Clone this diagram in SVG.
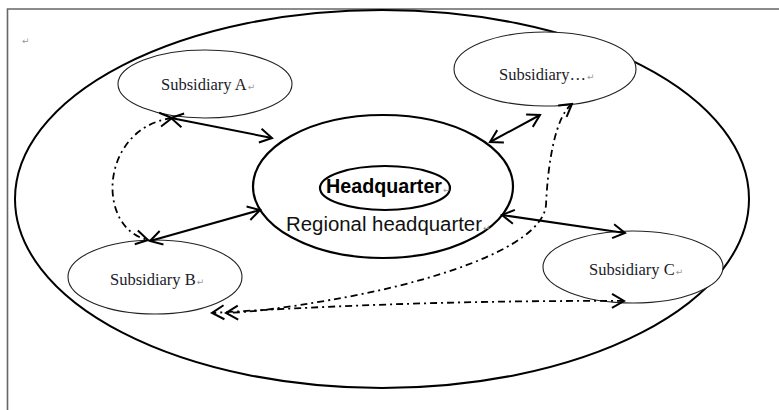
<svg xmlns="http://www.w3.org/2000/svg" width="779" height="410" viewBox="0 0 779 410">
<style>
.frame{fill:none;stroke:#666;stroke-width:1.6}
.outer{fill:none;stroke:#000;stroke-width:2}
.hq{fill:none;stroke:#000;stroke-width:2.2}
.sub{fill:#fff;stroke:#222;stroke-width:1.1}
.sublbl{font-family:"Liberation Serif",serif;font-size:16.5px;fill:#1a1a2a}
.ret{font-family:"DejaVu Sans",sans-serif;font-size:9px;fill:#9a9a9a;font-weight:normal}
.solid{fill:none;stroke:#000;stroke-width:2}
.dd{fill:none;stroke:#000;stroke-width:1.8;stroke-dasharray:7 4 2 4}
</style>
<defs>
<marker id="ah" viewBox="-14 -9 16 18" refX="0" refY="0" markerWidth="16" markerHeight="18" markerUnits="userSpaceOnUse" orient="auto-start-reverse">
<path d="M -12 -7 L 0 0 L -12 7" fill="none" stroke="#000" stroke-width="2"/>
</marker>
</defs>
<path class="frame" d="M 7.5 410 L 7.5 9 L 779 9"/>
<text class="ret" x="22" y="44">↵</text>
<g id="outer">
<ellipse class="outer" cx="382" cy="199" rx="367" ry="189"/>
</g>
<g id="subA">
<ellipse class="sub" cx="205" cy="84" rx="87" ry="34"/>
<text class="sublbl" x="161" y="90">Subsidiary A<tspan class="ret" dx="1">↵</tspan></text>
</g>
<g id="subEtc">
<ellipse class="sub" cx="545" cy="69" rx="91" ry="37"/>
<text class="sublbl" x="499" y="80">Subsidiary…<tspan class="ret" dx="1">↵</tspan></text>
</g>
<g id="subB">
<ellipse class="sub" cx="155" cy="277" rx="87" ry="37"/>
<text class="sublbl" x="110" y="285">Subsidiary B<tspan class="ret" dx="1">↵</tspan></text>
</g>
<g id="subC">
<ellipse class="sub" cx="633" cy="267" rx="90" ry="36"/>
<text class="sublbl" x="589" y="275">Subsidiary C<tspan class="ret" dx="1">↵</tspan></text>
</g>
<g id="regional">
<ellipse class="hq" cx="383" cy="186.5" rx="130" ry="71.5"/>
<text x="286" y="231" font-family="'Liberation Sans',sans-serif" font-size="20" fill="#111"><tspan textLength="196" lengthAdjust="spacingAndGlyphs">Regional headquarter</tspan><tspan class="ret" dx="1">↵</tspan></text>
</g>
<g id="hq">
<ellipse class="hq" cx="385" cy="188" rx="65" ry="22"/>
<text x="326" y="193" font-family="'Liberation Sans',sans-serif" font-size="20" font-weight="bold" fill="#000"><tspan textLength="116" lengthAdjust="spacingAndGlyphs">Headquarter</tspan><tspan class="ret" dx="1">↵</tspan></text>
</g>
<g id="connectors">
<line class="solid" x1="171" y1="118" x2="272" y2="138" marker-start="url(#ah)" marker-end="url(#ah)"/>
<line class="solid" x1="150" y1="241" x2="260" y2="210" marker-start="url(#ah)" marker-end="url(#ah)"/>
<line class="solid" x1="490" y1="142" x2="540" y2="115" marker-start="url(#ah)" marker-end="url(#ah)"/>
<line class="solid" x1="502" y1="215" x2="625" y2="233" marker-start="url(#ah)" marker-end="url(#ah)"/>
<path class="dd" d="M 172 118 C 100 128, 95 228, 148 240" marker-start="url(#ah)" marker-end="url(#ah)"/>
<path class="dd" d="M 572 104 C 556 116, 548 160, 546 205 C 542 250, 420 285, 330 300 C 290 307, 255 312, 226 313" marker-start="url(#ah)" marker-end="url(#ah)"/>
<path class="dd" d="M 624 301 Q 420 300 212 313" marker-start="url(#ah)" marker-end="url(#ah)"/>
</g>
</svg>
